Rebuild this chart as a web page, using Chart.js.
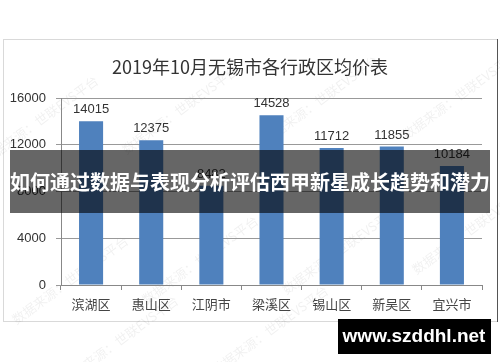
<!DOCTYPE html>
<html>
<head>
<meta charset="utf-8">
<script src="https://cdn.jsdelivr.net/npm/chart.js@4"></script>
<style>
  html, body { margin: 0; padding: 0; background: #fff; }
  #wrap { width: 500px; height: 362px; position: relative; }
</style>
</head>
<body>
<div id="wrap"><canvas id="chart" width="500" height="362"></canvas></div>
<script>
const districts = ['滨湖区', '惠山区', '江阴市', '梁溪区', '锡山区', '新吴区', '宜兴市'];
const avgPrice = [14015, 12375, 8482, 14528, 11712, 11855, 10184];
const yTicks = [0, 4000, 8000, 12000, 16000];
const chartTitle = '2019年10月无锡市各行政区均价表';
const bannerText = '如何通过数据与表现分析评估西甲新星成长趋势和潜力';
const siteText = 'www.szddhl.net';
const watermarkText = '数据来源：世联EVS平台';

const cjk = '"Noto Sans CJK SC", "Noto Sans", sans-serif';
const latin = '"Liberation Sans", Arial, sans-serif';

// frame, title and faint watermark behind the chart
const backdrop = {
    id: 'backdrop',
    beforeDraw(chart) {
        const ctx = chart.ctx;
        ctx.save();
        ctx.fillStyle = '#fff';
        ctx.fillRect(0, 0, 500, 362);
        ctx.strokeStyle = '#d9d9d9';
        ctx.lineWidth = 1;
        ctx.strokeRect(3.5, 39.5, 494, 282);
        ctx.strokeStyle = '#555';
        ctx.beginPath();
        ctx.moveTo(497.5, 39); ctx.lineTo(497.5, 322);
        ctx.stroke();

        ctx.fillStyle = '#333';
        ctx.font = '18px ' + cjk;
        ctx.textAlign = 'center';
        ctx.textBaseline = 'middle';
        ctx.fillText(chartTitle, 250, 67);

        ctx.fillStyle = 'rgba(0,0,0,0.06)';
        ctx.font = '13px ' + cjk;
        const spots = [[40, 120], [180, 110], [320, 100], [460, 95], [70, 280], [200, 260], [340, 250], [470, 230], [120, 340], [270, 330]];
        spots.forEach(([x, y]) => {
            ctx.save();
            ctx.translate(x, y);
            ctx.rotate(-Math.PI / 5);
            ctx.fillText(watermarkText, 0, 0);
            ctx.restore();
        });
        ctx.restore();
    }
};

// value labels over the bars
const barLabels = {
    id: 'barLabels',
    afterDatasetsDraw(chart) {
        const ctx = chart.ctx;
        const meta = chart.getDatasetMeta(0);
        ctx.save();
        ctx.fillStyle = '#333';
        ctx.font = '13px ' + latin;
        ctx.textAlign = 'center';
        ctx.textBaseline = 'bottom';
        meta.data.forEach((bar, i) => {
            ctx.fillText(avgPrice[i], bar.x, bar.y - 5);
        });
        ctx.restore();
    }
};

// dark banner and site box on top of everything
const overlay = {
    id: 'overlay',
    afterDraw(chart) {
        const ctx = chart.ctx;
        ctx.save();
        ctx.fillStyle = 'rgba(0,0,0,0.6)';
        ctx.fillRect(10, 150, 480, 63);
        ctx.fillStyle = '#fff';
        ctx.font = 'bold 20px ' + cjk;
        ctx.textAlign = 'center';
        ctx.textBaseline = 'middle';
        ctx.fillText(bannerText, 250, 182);

        ctx.fillStyle = '#000';
        ctx.fillRect(338, 319, 153, 35);
        ctx.fillStyle = '#fff';
        ctx.font = 'bold 19px ' + latin;
        ctx.fillText(siteText, 414, 337);
        ctx.restore();
    }
};

new Chart(document.getElementById('chart'), {
    type: 'bar',
    data: {
        labels: districts,
        datasets: [{
            data: avgPrice,
            backgroundColor: '#4f81bd',
            barPercentage: 0.4,
            categoryPercentage: 1
        }]
    },
    options: {
        responsive: false,
        animation: false,
        layout: { padding: { left: 4, right: 18, top: 98, bottom: 0 } },
        plugins: { legend: { display: false }, tooltip: { enabled: false }, title: { display: false } },
        scales: {
            x: {
                afterFit(scale) { scale.height = 77; },
                grid: { drawOnChartArea: false, drawTicks: true, tickLength: 5, color: '#888', offset: true },
                border: { color: '#888' },
                ticks: { color: '#444', font: { family: cjk, size: 13 }, padding: 6 }
            },
            y: {
                min: 0, max: 16000,
                afterFit(scale) { scale.width = 57; },
                afterBuildTicks(scale) { scale.ticks = yTicks.map(v => ({ value: v })); },
                grid: { color: '#999', tickLength: 5 },
                border: { color: '#888' },
                ticks: { color: '#333', font: { family: latin, size: 13 }, padding: 10, callback: v => String(v) }
            }
        }
    },
    plugins: [backdrop, barLabels, overlay]
});
</script>
</body>
</html>
